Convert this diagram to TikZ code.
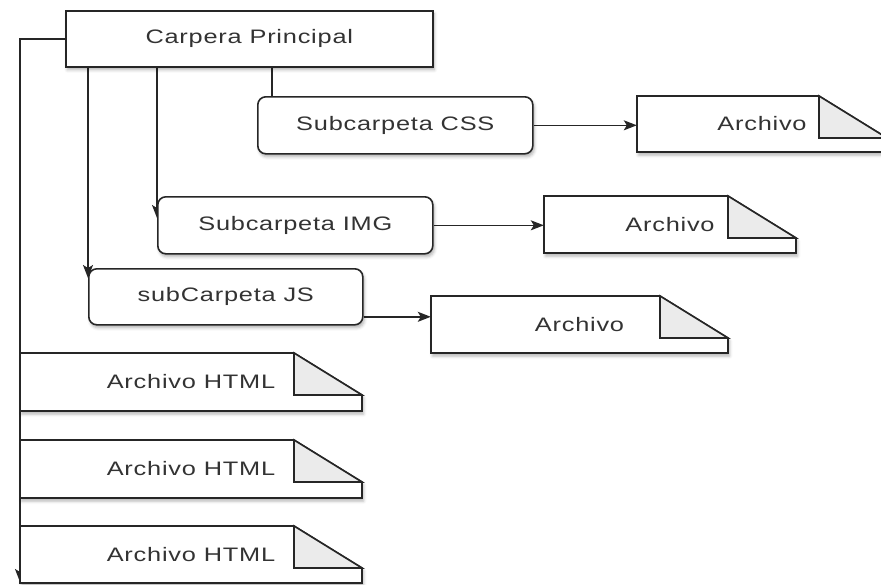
\documentclass[tikz,border=0pt]{standalone}
\usepackage{fontspec}
\setmainfont{Liberation Sans}[FakeStretch=1.3,LetterSpace=4]
\usetikzlibrary{arrows.meta,shadows.blur,backgrounds}
\tikzset{
  x=1pt, y=-1pt,
  line/.style={draw=black!85, line width=1.6pt},
  arr/.style={line, -{Stealth[length=13pt,width=10pt,inset=3pt]}},
  shd/.style={blur shadow={shadow xshift=1.5pt, shadow yshift=-3pt, shadow blur radius=3pt, shadow opacity=30}},
  lbl/.style={font=\fontsize{19.5}{22}\selectfont, text=black!80},
  box/.style={line, fill=white, shd, inner sep=0pt, lbl},
  folder/.style={box, rounded corners=8pt},
  txt/.style={inner sep=0pt, lbl}
}
\newcommand\docfile[6]{%
  \path[line, fill=white, shd] (#2,#3) -- ({#4-68},#3) -- (#4,{#3+42}) -- (#4,#5) -- (#2,#5) -- cycle;
  \path[line, fill=black!8] ({#4-68},#3) -- ({#4-68},{#3+42}) -- (#4,{#3+42}) -- cycle;
  \node[txt, minimum width={(#4-#2)*1pt}, minimum height={(#5-#3)*1pt}] (#1) at ({(#2+#4)/2},{(#3+#5)/2}) {#6};
}
\begin{document}
\begin{tikzpicture}
\useasboundingbox (0,0) rectangle (881,584);
\node[box, minimum width=367pt, minimum height=56pt, anchor=north west] (main) at (65,10) {Carpera Principal};
\node[folder, minimum width=275pt, minimum height=57pt, anchor=north west] (css) at (257,96) {Subcarpeta CSS};
\node[folder, minimum width=275pt, minimum height=57pt, anchor=north west] (img) at (157,196) {Subcarpeta IMG};
\node[folder, minimum width=274pt, minimum height=56pt, anchor=north west] (js) at (88,268) {subCarpeta JS};
\docfile{a1}{637}{96}{887}{152}{Archivo}
\docfile{a2}{544}{196}{796}{253}{Archivo}
\docfile{a3}{431}{296}{728}{353}{Archivo}
\docfile{h1}{20}{353}{362}{411}{Archivo HTML}
\docfile{h2}{20}{440}{362}{498}{Archivo HTML}
\docfile{h3}{20}{526}{362}{583}{Archivo HTML}
\begin{scope}[on background layer]
  \coordinate (lend) at (20,582);
  \coordinate (jsout) at ([yshift=-20pt]js.east);
  \draw[arr] (main.west) -| (lend);
  \draw[line] ([xshift=207pt]main.south west) -- ([xshift=15pt]css.north west);
  \draw[arr] ([xshift=92pt]main.south west) -- ([yshift=-22pt]img.north west);
  \draw[arr] ([xshift=23pt]main.south west) -- ([yshift=-10pt]js.north west);
  \draw[arr] (css.east) -- (a1.west |- css.east);
  \draw[arr] (img.east) -- (a2.west |- img.east);
  \draw[arr] (jsout) -- (a3.west |- jsout);
\end{scope}
\end{tikzpicture}
\end{document}
